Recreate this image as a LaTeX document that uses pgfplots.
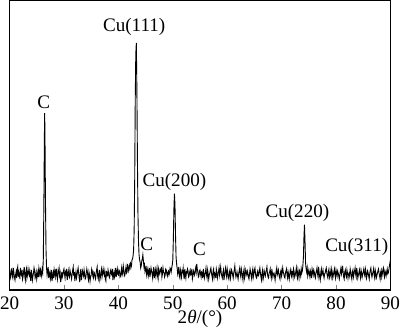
\documentclass[border=0pt]{standalone}
\usepackage{fontspec}
\setmainfont{Liberation Serif}
\usepackage{pgfplots}
\pgfplotsset{compat=1.18}
\begin{document}
\fontsize{9.5}{11}\selectfont
\begin{tikzpicture}
\begin{axis}[
  width=189.5pt, height=144pt, scale only axis,
  xmin=20, xmax=90, ymin=0, ymax=288,
  xtick={20,30,...,90}, ytick=\empty,
  xtick pos=bottom, tick align=inside, major tick length=2.5pt,
  axis line style={line width=0.6pt},
  /pgf/number format/assume math mode=true,
  ticklabel style={font=\fontsize{9.5}{11}\selectfont, inner xsep=0pt},
  xlabel={2\textit{θ}/(°)},
  xlabel style={font=\fontsize{9.5}{11}\selectfont, yshift=6.5pt},
  clip=true,
]
\addplot[black, line width=0.45pt] coordinates {
(20.0,19)(20.1,11)(20.2,13)(20.3,20)(20.4,21)(20.5,14)(20.6,12)(20.7,22)(20.8,17)(20.9,13)
(21.0,10)(21.1,15)(21.2,18)(21.3,12)(21.4,20)(21.5,23)(21.6,13)(21.7,18)(21.8,16)(21.9,11)
(22.0,22)(22.1,17)(22.2,15)(22.3,20)(22.4,11)(22.5,14)(22.6,19)(22.7,23)(22.8,14)(22.9,10)
(23.0,18)(23.1,21)(23.2,12)(23.3,15)(23.4,21)(23.5,17)(23.6,15)(23.7,19)(23.8,13)(23.9,9)
(24.0,20)(24.1,16)(24.2,10)(24.3,14)(24.4,17)(24.5,22)(24.6,19)(24.7,12)(24.8,14)(24.9,18)
(25.0,11)(25.1,15)(25.2,18)(25.3,13)(25.4,22)(25.5,19)(25.6,13)(25.7,20)(25.8,17)(25.9,14)
(26.0,21)(26.1,18)(26.2,30)(26.3,80)(26.4,150)(26.45,176)(26.5,160)(26.6,90)(26.7,40)(26.8,22)
(26.9,15)(27.0,19)(27.1,23)
(27.2,12)(27.3,16)(27.4,18)(27.5,11)(27.6,14)(27.7,20)(27.8,9)(27.9,13)(28.0,17)(28.1,12)
(28.2,20)(28.3,16)(28.4,13)(28.5,21)(28.6,16)(28.7,19)(28.8,11)(28.9,15)(29.0,19)(29.1,22)
(29.2,14)(29.3,17)(29.4,8)(29.5,12)(29.6,18)(29.7,13)(29.8,15)(29.9,19)(30.0,21)(30.1,16)
(30.2,12)(30.3,18)(30.4,16)(30.5,21)(30.6,10)(30.7,14)(30.8,19)(30.9,15)(31.0,13)(31.1,20)
(31.2,17)(31.3,14)(31.4,11)(31.5,16)(31.6,20)(31.7,23)(31.8,14)(31.9,18)(32.0,9)(32.1,14)
(32.2,18)(32.3,12)(32.4,15)(32.5,19)(32.6,22)(32.7,17)(32.8,12)(32.9,8)(33.0,17)(33.1,21)
(33.2,10)(33.3,14)(33.4,19)(33.5,16)(33.6,14)(33.7,20)(33.8,16)(33.9,11)(34.0,12)(34.1,17)
(34.2,21)(34.3,18)(34.4,13)(34.5,10)(34.6,18)(34.7,15)(34.8,9)(34.9,13)(35.0,15)(35.1,21)
(35.2,19)(35.3,14)(35.4,12)(35.5,18)(35.6,17)(35.7,13)(35.8,11)(35.9,16)(36.0,20)(36.1,23)
(36.2,14)(36.3,11)(36.4,16)(36.5,20)(36.6,10)(36.7,13)(36.8,18)(36.9,21)(37.0,13)(37.1,16)
(37.2,21)(37.3,17)(37.4,15)(37.5,19)(37.6,11)(37.7,9)(37.8,19)(37.9,14)(38.0,14)(38.1,20)
(38.2,17)(38.3,13)(38.4,12)(38.5,18)(38.6,20)(38.7,16)(38.8,15)(38.9,21)(39.0,10)(39.1,14)
(39.2,18)(39.3,13)(39.4,16)(39.5,22)(39.6,13)(39.7,17)(39.8,21)(39.9,16)
(40.0,15)(40.1,20)(40.2,19)(40.3,13)(40.4,14)(40.5,18)(40.6,22)(40.7,15)(40.8,17)(40.9,24)
(41.0,20)(41.1,14)(41.2,15)(41.3,19)(41.4,23)(41.5,17)(41.6,18)(41.7,25)(41.8,24)(41.9,19)
(42.0,21)(42.1,26)(42.2,27)(42.3,22)(42.4,24)(42.5,30)(42.6,31)(42.7,34)(42.8,40)(42.9,60)
(43.0,110)(43.1,190)(43.2,235)(43.3,246)(43.4,200)(43.5,130)(43.6,75)(43.7,48)(43.8,35)(43.9,30)
(44.0,28)(44.1,22)(44.2,24)(44.3,29)(44.4,31)(44.5,35)(44.6,29)(44.7,23)(44.8,25)(44.9,18)
(45.0,20)(45.1,24)
(45.2,15)(45.3,18)(45.4,21)(45.5,14)(45.6,17)(45.7,22)(45.8,13)(45.9,17)(46.0,22)(46.1,19)
(46.2,16)(46.3,12)(46.4,19)(46.5,23)(46.6,12)(46.7,16)(46.8,20)(46.9,14)(47.0,18)(47.1,22)
(47.2,14)(47.3,11)(47.4,21)(47.5,18)(47.6,16)(47.7,20)(47.8,19)(47.9,23)(48.0,13)(48.1,16)
(48.2,22)(48.3,18)(48.4,17)(48.5,13)(48.6,15)(48.7,21)(48.8,20)(48.9,16)(49.0,14)(49.1,18)
(49.2,19)(49.3,15)(49.4,17)(49.5,22)(49.6,21)(49.7,18)
(49.8,22)(49.9,25)(50.0,30)(50.1,50)(50.2,80)(50.3,96)(50.4,85)(50.5,55)(50.6,33)(50.7,26)
(50.8,22)(50.9,16)(51.0,19)(51.1,23)
(51.2,14)(51.3,12)(51.4,20)(51.5,17)(51.6,13)(51.7,19)(51.8,18)(51.9,22)(52.0,15)(52.1,11)
(52.2,21)(52.3,16)(52.4,12)(52.5,18)(52.6,17)(52.7,21)(52.8,19)(52.9,13)(53.0,14)(53.1,18)
(53.2,20)(53.3,15)(53.4,16)(53.5,21)(53.6,11)(53.7,14)(53.8,19)(53.9,17)(54.0,15)(54.1,19)
(54.2,22)(54.3,18)(54.4,26)(54.5,21)(54.6,18)(54.7,13)(54.8,14)(54.9,19)(55.0,20)(55.1,16)
(55.2,13)(55.3,18)(55.4,17)(55.5,12)(55.6,21)(55.7,17)(55.8,12)(55.9,15)(56.0,18)(56.1,22)
(56.2,15)(56.3,12)(56.4,20)(56.5,16)(56.6,11)(56.7,15)(56.8,17)(56.9,20)(57.0,22)(57.1,17)
(57.2,14)(57.3,11)(57.4,19)(57.5,21)(57.6,13)(57.7,17)(57.8,16)(57.9,12)(58.0,21)(58.1,18)
(58.2,12)(58.3,15)(58.4,18)(58.5,22)(58.6,15)(58.7,19)(58.8,23)(58.9,17)(59.0,14)(59.1,12)
(59.2,17)(59.3,20)(59.4,10)(59.5,14)(59.6,19)(59.7,22)(59.8,16)(59.9,13)(60.0,21)(60.1,17)
(60.2,13)(60.3,11)(60.4,18)(60.5,20)(60.6,12)(60.7,16)(60.8,20)(60.9,18)(61.0,15)(61.1,12)
(61.2,17)(61.3,20)(61.4,24)(61.5,17)(61.6,13)(61.7,15)(61.8,18)(61.9,14)(62.0,11)(62.1,16)
(62.2,19)(62.3,22)(62.4,16)(62.5,13)(62.6,21)(62.7,18)(62.8,14)(62.9,10)(63.0,18)(63.1,21)
(63.2,12)(63.3,15)(63.4,20)(63.5,17)(63.6,15)(63.7,19)(63.8,17)(63.9,13)(64.0,11)(64.1,16)
(64.2,21)(64.3,18)(64.4,14)(64.5,11)(64.6,18)(64.7,21)(64.8,13)(64.9,16)(65.0,20)(65.1,22)
(65.2,16)(65.3,13)(65.4,12)(65.5,17)(65.6,19)(65.7,14)(65.8,15)(65.9,19)(66.0,22)(66.1,17)
(66.2,13)(66.3,10)(66.4,17)(66.5,20)(66.6,11)(66.7,14)(66.8,19)(66.9,16)(67.0,14)(67.1,18)
(67.2,20)(67.3,23)(67.4,16)(67.5,13)(67.6,12)(67.7,17)(67.8,18)(67.9,21)(68.0,15)(68.1,12)
(68.2,21)(68.3,17)(68.4,13)(68.5,16)(68.6,17)(68.7,14)(68.8,10)(68.9,15)(69.0,19)(69.1,22)
(69.2,15)(69.3,17)(69.4,20)(69.5,16)(69.6,13)(69.7,11)(69.8,18)(69.9,20)(70.0,14)(70.1,17)
(70.2,22)(70.3,18)(70.4,16)(70.5,13)(70.6,12)(70.7,17)(70.8,19)(70.9,21)(71.0,15)(71.1,12)
(71.2,18)(71.3,15)(71.4,11)(71.5,16)(71.6,20)(71.7,17)(71.8,14)(71.9,19)(72.0,17)(72.1,13)
(72.2,21)(72.3,18)(72.4,13)(72.5,15)(72.6,18)(72.7,22)(72.8,15)(72.9,12)(73.0,20)(73.1,16)
(73.2,12)(73.3,19)(73.4,17)(73.5,14)(73.6,21)(73.7,17)(73.8,19)
(73.9,24)(74.0,32)(74.1,52)(74.2,65)(74.3,48)(74.4,27)(74.5,21)(74.6,18)(74.7,22)
(74.8,14)(74.9,17)(75.0,20)(75.1,16)(75.2,13)(75.3,19)(75.4,17)(75.5,12)(75.6,21)(75.7,18)
(75.8,15)(75.9,20)(76.0,18)(76.1,14)(76.2,12)(76.3,17)(76.4,19)(76.5,22)(76.6,16)(76.7,13)
(76.8,23)(76.9,17)(77.0,13)(77.1,10)(77.2,18)(77.3,21)(77.4,15)(77.5,17)(77.6,20)(77.7,15)
(77.8,12)(77.9,16)(78.0,17)(78.1,20)(78.2,22)(78.3,17)(78.4,14)(78.5,12)(78.6,19)(78.7,16)
(78.8,13)(78.9,20)(79.0,16)(79.1,13)(79.2,21)(79.3,18)(79.4,12)(79.5,15)(79.6,18)(79.7,21)
(79.8,15)(79.9,12)(80.0,20)(80.1,17)(80.2,14)(80.3,19)(80.4,17)(80.5,14)(80.6,11)(80.7,15)
(80.8,19)(80.9,22)(81.0,16)(81.1,19)(81.2,24)(81.3,18)(81.4,13)(81.5,11)(81.6,18)(81.7,20)
(81.8,15)(81.9,13)(82.0,20)(82.1,17)(82.2,12)(82.3,16)(82.4,17)(82.5,14)(82.6,21)(82.7,18)
(82.8,14)(82.9,11)(83.0,18)(83.1,20)(83.2,13)(83.3,16)(83.4,19)(83.5,22)(83.6,16)(83.7,13)
(83.8,22)(83.9,18)(84.0,12)(84.1,15)(84.2,17)(84.3,20)(84.4,15)(84.5,12)(84.6,20)(84.7,17)
(84.8,13)(84.9,16)(85.0,18)(85.1,21)(85.2,16)(85.3,14)(85.4,21)(85.5,18)(85.6,12)(85.7,15)
(85.8,19)(85.9,17)(86.0,14)(86.1,11)(86.2,17)(86.3,20)(86.4,22)(86.5,16)(86.6,13)(86.7,16)
(86.8,18)(86.9,21)(87.0,15)(87.1,12)(87.2,20)(87.3,17)(87.4,12)(87.5,14)(87.6,17)(87.7,19)
(87.8,21)(87.9,17)(88.0,14)(88.1,11)(88.2,18)(88.3,20)(88.4,13)(88.5,16)(88.6,20)(88.7,22)
(88.8,16)(88.9,13)(89.0,19)(89.1,17)(89.2,14)(89.3,18)(89.4,21)(89.5,16)(89.6,17)(89.7,20)
(89.8,24)(89.9,27)(90.0,30)
};
\node at (axis cs:26.3,187) {C};
\node at (axis cs:42.9,262) {Cu(111)};
\node at (axis cs:50.3,108) {Cu(200)};
\node at (axis cs:45.2,46) {C};
\node at (axis cs:54.9,41) {C};
\node at (axis cs:72.9,77) {Cu(220)};
\node at (axis cs:83.8,43) {Cu(311)};
\end{axis}
\end{tikzpicture}
\end{document}
